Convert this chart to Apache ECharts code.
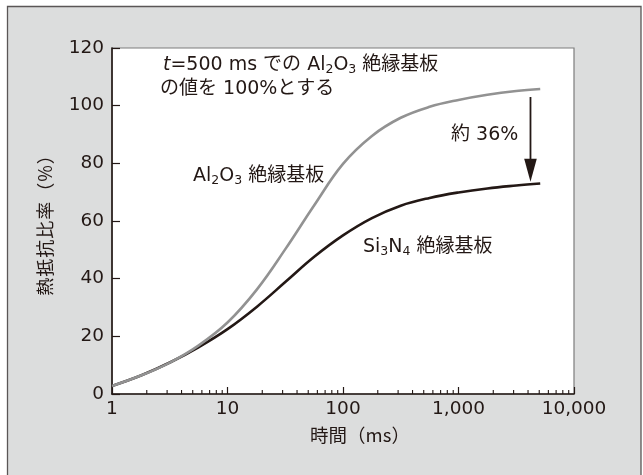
<!DOCTYPE html>
<html>
<head>
<meta charset="utf-8">
<script src="https://cdn.jsdelivr.net/npm/echarts@6/dist/echarts.min.js"></script>
<style>
html,body{margin:0;padding:0;background:#fff;}
#chart{width:643px;height:475px;}
</style>
</head>
<body>
<div id="chart"></div>
<script>
// ---- data ----
var times = [1, 1.8, 3.2, 5.6, 10, 18, 32, 56, 100, 178, 316, 562, 1000, 1778, 3162, 5100];
var al2o3 = [2.8, 6.5, 11.0, 16.8, 24.8, 36.3, 50.5, 65.3, 79.8, 89.5, 95.8, 99.6, 102.0, 103.8, 105.1, 105.8];
var si3n4 = [2.8, 6.5, 11.0, 16.2, 22.5, 30.3, 39.0, 47.5, 55.0, 61.0, 65.3, 68.0, 69.9, 71.3, 72.3, 73.0];
var xTickLabels = ['1', '10', '100', '1,000', '10,000'];
var yMin = 0, yMax = 120, yStep = 20;
var xMin = 1, xMax = 10000;
var minorTickValues = [2,3,4,5,6,7,8,9, 20,30,40,50,60,70,80,90, 200,300,400,500,600,700,800,900, 2000,3000,4000,5000,6000,7000,8000,9000];
var arrowData = [[4200, 103.0, 73.6]]; // x, from, to
var yTitleChars = ['熱', '抵', '抗', '比', '率', '（', '%', '）'];

// ---- chart ----
var FONT = '"DejaVu Sans", "Noto Sans CJK JP", sans-serif';
var CJK = '"Noto Sans CJK JP", sans-serif';
var INK = '#231815';
var chart = echarts.init(document.getElementById('chart'));

function zip(xs, ys) { return xs.map(function (x, i) { return [x, ys[i]]; }); }

var subRich = {
  s: { fontSize: 12.5, fontFamily: FONT, verticalAlign: 'bottom', fill: INK },
  i: { fontStyle: 'italic', fontSize: 19, fontFamily: FONT, fill: INK }
};

function annot(left, top, text) {
  return {
    type: 'text', left: left, top: top, z: 50,
    style: {
      text: text, fill: INK, fontSize: 19, fontFamily: FONT, lineHeight: 22,
      rich: subRich
    }
  };
}

var option = {
  backgroundColor: 'transparent',
  animation: false,
  graphic: [
    { type: 'rect', z: -10, shape: { x: 7.5, y: 6.5, width: 633.5, height: 480 },
      style: { fill: '#dcdddd', stroke: '#5a5656', lineWidth: 1.3 } },
    annot(163, 54, '{i|t}=500 ms での Al{s|2}O{s|3} 絶縁基板'),
    annot(160, 78, 'の値を 100%とする'),
    annot(193, 165, 'Al{s|2}O{s|3} 絶縁基板'),
    annot(363, 236, 'Si{s|3}N{s|4} 絶縁基板'),
    annot(451, 124, '約 36%'),
    {
      type: 'text', x: 45, y: 221, rotation: Math.PI / 2, z: 50,
      style: {
        text: yTitleChars.map(function (c) { return '{c|' + c + '}'; }).join(''),
        align: 'center', verticalAlign: 'middle', fill: INK,
        fontSize: 18, fontFamily: CJK,
        rich: { c: { fontSize: 18, fontFamily: CJK, fill: INK, padding: [0, 0.5, 0, 0.5] } }
      }
    }
  ],
  grid: {
    left: 112, top: 48, right: 69, bottom: 81,
    show: true, backgroundColor: '#ffffff', borderColor: '#7d7d7d', borderWidth: 1.2
  },
  xAxis: {
    type: 'log', logBase: 10, min: xMin, max: xMax,
    name: '時間（ms）', nameLocation: 'middle', nameGap: 32,
    nameTextStyle: { fontSize: 18.5, fontFamily: CJK, color: INK, padding: [0, 0, 0, 34] },
    axisLine: { show: true, lineStyle: { color: INK, width: 1.6 } },
    axisTick: { show: true, inside: true, length: 7, lineStyle: { color: INK, width: 1.2 } },
    axisLabel: {
      fontSize: 18.5, fontFamily: FONT, color: INK, margin: 6,
      formatter: function (v) { return xTickLabels[Math.round(Math.log10(v))]; }
    },
    splitLine: { show: false },
    minorTick: { show: false }
  },
  yAxis: {
    type: 'value', min: yMin, max: yMax, interval: yStep,
    axisLine: { show: true, lineStyle: { color: INK, width: 1.6 } },
    axisTick: { show: true, inside: true, length: 8, lineStyle: { color: INK, width: 1.2 } },
    axisLabel: { fontSize: 18.5, fontFamily: FONT, color: INK, margin: 8 },
    splitLine: { show: false }
  },
  series: [
    {
      name: 'Si3N4', type: 'line', data: zip(times, si3n4), smooth: 0.4,
      showSymbol: false, symbol: 'none', z: 3,
      lineStyle: { color: INK, width: 2.6 }
    },
    {
      name: 'Al2O3', type: 'line', data: zip(times, al2o3), smooth: 0.4,
      showSymbol: false, symbol: 'none', z: 4,
      lineStyle: { color: '#929292', width: 2.6 }
    },
    {
      name: 'minorTicks', type: 'custom', silent: true, clip: false, z: 6,
      data: minorTickValues.map(function (v) { return [v, yMin]; }),
      renderItem: function (params, api) {
        var p = api.coord([api.value(0), api.value(1)]);
        return { type: 'line', shape: { x1: p[0], y1: p[1], x2: p[0], y2: p[1] - 4 },
                 style: { stroke: INK, lineWidth: 1.1 } };
      }
    },
    {
      name: 'arrow', type: 'custom', silent: true, clip: false, z: 7,
      data: arrowData,
      renderItem: function (params, api) {
        var a = api.coord([api.value(0), api.value(1)]);
        var b = api.coord([api.value(0), api.value(2)]);
        var headL = 23, headW = 6.3;
        return {
          type: 'group',
          children: [
            { type: 'line', shape: { x1: a[0], y1: a[1], x2: b[0], y2: b[1] - headL + 2 },
              style: { stroke: INK, lineWidth: 1.8 } },
            { type: 'polygon', shape: { points: [[b[0] - headW, b[1] - headL], [b[0] + headW, b[1] - headL], [b[0], b[1]]] },
              style: { fill: INK } }
          ]
        };
      }
    }
  ]
};
chart.setOption(option);
</script>
</body>
</html>
